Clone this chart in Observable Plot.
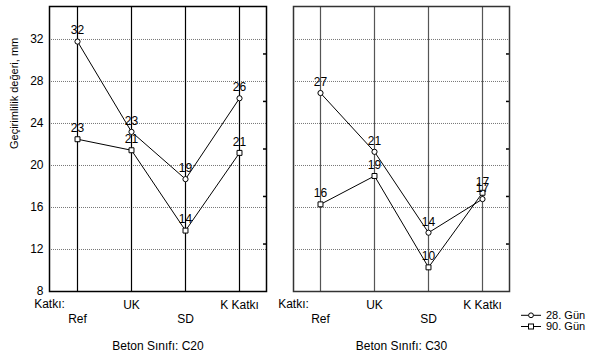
<!DOCTYPE html>
<html>
<head>
<meta charset="utf-8">
<script src="https://cdn.jsdelivr.net/npm/d3@7"></script>
<script src="https://cdn.jsdelivr.net/npm/@observablehq/plot@0.6"></script>
<style>
  html, body { margin: 0; padding: 0; background: #fff; }
  #wrap { position: relative; width: 593px; height: 361px; overflow: hidden; font-family: "Liberation Sans", Arial, sans-serif; }
</style>
</head>
<body>
<div id="wrap"></div>
<script>
const categories = ["Ref", "UK", "SD", "K Katkı"];
const upperLabels = ["UK", "K Katkı"];
const lowerLabels = ["Ref", "SD"];
const series = ["28. Gün", "90. Gün"];
const panelTitles = ["Beton Sınıfı: C20", "Beton Sınıfı: C30"];
const c20_28 = [31.8, 23.2, 18.7, 26.4];
const c20_90 = [22.5, 21.45, 13.8, 21.2];
const c30_28 = [26.9, 21.3, 13.6, 16.8];
const c30_90 = [16.3, 19.0, 10.3, 17.4];
const yTicks = [8, 12, 16, 20, 24, 28, 32];
const gridTicks = [12, 16, 20, 24, 28, 32];
const rightTicks = [12.52, 17.05, 21.57, 26.1, 30.62];
const yDomain = [8, 35.14];

const FONT = "Liberation Sans, Arial, sans-serif";

function rows(v28, v90) {
  const out = [];
  categories.forEach((c, i) => out.push({cat: c, v: v28[i], s: series[0]}));
  categories.forEach((c, i) => out.push({cat: c, v: v90[i], s: series[1]}));
  return out;
}

function panel({v28, v90, title, showY, left, width, marginLeft, marginRight, vcolor, fcolor}) {
  const data = rows(v28, v90);
  const frameW = width - marginLeft - marginRight;
  const marks = [
    Plot.ruleY(gridTicks, {y: d => d, stroke: "#777", strokeDasharray: "1,1", strokeWidth: 1}),
    Plot.ruleX(categories, {x: d => d, stroke: vcolor, strokeWidth: 1.2}),
    Plot.tickY(rightTicks, {y: d => d, stroke: "#000", strokeWidth: 1.5, insetLeft: frameW - 3}),
    Plot.frame({stroke: fcolor, strokeWidth: 1.5}),
    Plot.line(data, {x: "cat", y: "v", z: "s", stroke: "#000", strokeWidth: 1}),
    Plot.dot(data.filter(d => d.s === series[0]), {x: "cat", y: "v", r: 2.6, symbol: "circle", stroke: "#000", fill: "#fff", strokeWidth: 1}),
    Plot.dot(data.filter(d => d.s === series[1]), {x: "cat", y: "v", r: 2.8, symbol: "square", stroke: "#000", fill: "#fff", strokeWidth: 1}),
    Plot.text(data, {x: "cat", y: "v", text: d => String(Math.round(d.v)), dy: -11, fontSize: 12, fill: "#000"}),
    Plot.axisX(upperLabels, {tickSize: 0, tickPadding: 9, label: null, fontSize: 12}),
    Plot.axisX(lowerLabels, {tickSize: 0, tickPadding: 23, label: null, fontSize: 12}),
    Plot.text(["Katkı:"], {text: d => d, frameAnchor: "bottom-left", dy: 16, textAnchor: "middle", fontSize: 12}),
    Plot.text([title], {text: d => d, frameAnchor: "bottom", dy: 58, textAnchor: "middle", fontSize: 12})
  ];
  if (showY) {
    marks.push(Plot.axisY(yTicks, {tickSize: 0, tickPadding: 6, label: null, fontSize: 12}));
    marks.push(Plot.text(["Geçirimlilik değeri, mm"], {text: d => d, frameAnchor: "left", dx: -35, rotate: -90, fontSize: 11}));
  }
  const svg = Plot.plot({
    width, height: 361,
    marginTop: 6, marginBottom: 70, marginLeft, marginRight,
    style: {fontFamily: FONT, fontSize: "12px", background: "transparent", overflow: "visible", color: "#000"},
    x: {type: "point", domain: categories, padding: 0.5, axis: null},
    y: {domain: yDomain, axis: null},
    marks
  });
  svg.style.position = "absolute";
  svg.style.left = left + "px";
  svg.style.top = "0px";
  return svg;
}

const wrap = document.getElementById("wrap");
wrap.appendChild(panel({v28: c20_28, v90: c20_90, title: panelTitles[0], showY: true,
  left: 0, width: 270, marginLeft: 49, marginRight: 4, vcolor: "#000", fcolor: "#000"}));
wrap.appendChild(panel({v28: c30_28, v90: c30_90, title: panelTitles[1], showY: false,
  left: 270, width: 323, marginLeft: 23, marginRight: 84, vcolor: "#555", fcolor: "#333"}));

// legend
const lg = d3.create("svg").attr("width", 83).attr("height", 40)
  .style("position", "absolute").style("left", "510px").style("top", "300px");
series.forEach((s, i) => {
  const y = 15.3 + i * 11.2;
  lg.append("line").attr("x1", 11).attr("x2", 31).attr("y1", y).attr("y2", y).attr("stroke", "#000");
  if (i === 0) lg.append("circle").attr("cx", 21).attr("cy", y).attr("r", 2.4).attr("fill", "#fff").attr("stroke", "#000");
  else lg.append("rect").attr("x", 18.5).attr("y", y - 2.5).attr("width", 5).attr("height", 5).attr("fill", "#fff").attr("stroke", "#000");
  lg.append("text").attr("x", 36).attr("y", y).attr("dy", "0.35em").attr("font-family", FONT).attr("font-size", 11).text(s);
});
wrap.appendChild(lg.node());
</script>
</body>
</html>
